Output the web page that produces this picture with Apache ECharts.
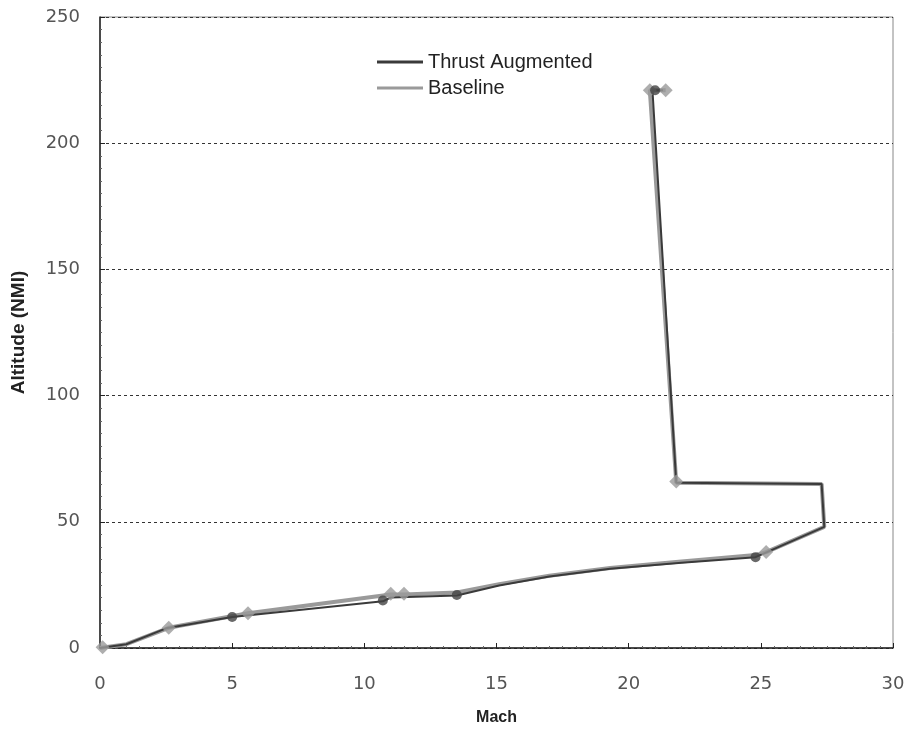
<!DOCTYPE html>
<html>
<head>
<meta charset="utf-8">
<script src="https://cdn.jsdelivr.net/npm/echarts@6/dist/echarts.min.js"></script>
<style>html,body{margin:0;padding:0;background:#fff}#c{width:911px;height:729px}</style>
</head>
<body>
<div id="c"></div>
<script>
// Mach / Altitude (NMI) trajectories
var thrustMach = [0, 1.0, 2.5, 5.0, 10.7, 11.0, 13.5, 15.1, 17.0, 19.3, 22.0, 24.8, 27.4, 27.3, 21.8, 20.9, 21.3];
var thrustAlt  = [0, 1.5, 7.8, 12.3, 18.5, 20.0, 20.8, 24.8, 28.3, 31.4, 33.8, 36.0, 48.0, 65.0, 65.5, 221.0, 221.0];
var baseMach = [0, 1.0, 2.6, 5.6, 11.0, 11.5, 13.5, 15.1, 17.0, 19.3, 22.0, 24.8, 25.2, 27.4, 27.3, 21.8, 20.8, 21.4];
var baseAlt  = [0, 1.5, 8.0, 13.8, 21.2, 21.2, 22.0, 25.3, 28.6, 31.7, 34.3, 36.8, 38.0, 48.0, 65.0, 65.5, 221.0, 221.0];
// marker points
var thrustMarkMach = [5.0, 10.7, 13.5, 24.8, 21.0];
var thrustMarkAlt  = [12.3, 18.8, 21.0, 36.0, 221.0];
var baseMarkMach = [0.1, 2.6, 5.6, 11.0, 11.5, 25.2, 21.8, 20.8, 21.4];
var baseMarkAlt  = [0.3, 8.0, 13.8, 21.5, 21.5, 38.0, 66.0, 221.0, 221.0];
var xTicks = [0, 5, 10, 15, 20, 25, 30];
var yTicks = [0, 50, 100, 150, 200, 250];

function pairs(a, b) { return a.map(function (v, i) { return [v, b[i]]; }); }

var chart = echarts.init(document.getElementById('c'));
var font = 'DejaVu Sans';
chart.setOption({
  animation: false,
  grid: { left: 100, right: 18, top: 17, bottom: 81, containLabel: false, outerBoundsMode: 'none',
          show: true, borderColor: '#888', borderWidth: 1 },
  legend: {
    orient: 'vertical', left: 372, top: 47, itemWidth: 46, itemHeight: 3, itemGap: 6,
    textStyle: { fontFamily: 'Liberation Sans', fontSize: 20, color: '#222' },
    data: [{ name: 'Thrust Augmented', icon: 'rect' }, { name: 'Baseline', icon: 'rect' }]
  },
  xAxis: {
    type: 'value', min: xTicks[0], max: xTicks[xTicks.length - 1], interval: 5,
    name: 'Mach', nameLocation: 'middle', nameGap: 62,
    nameTextStyle: { fontFamily: 'Liberation Sans', fontWeight: 'bold', fontSize: 16, color: '#222' },
    axisLine: { lineStyle: { color: '#222', width: 1.5 } },
    axisTick: { inside: true, length: 5, lineStyle: { color: '#222' } },
    minorTick: { show: true, splitNumber: 10, length: 2, lineStyle: { color: '#666' } },
    axisLabel: { margin: 27, fontFamily: font, fontSize: 18, color: '#555' },
    splitLine: { show: false }
  },
  yAxis: {
    type: 'value', min: yTicks[0], max: yTicks[yTicks.length - 1], interval: 50,
    name: 'Altitude (NMI)', nameLocation: 'middle', nameGap: 72, nameRotate: 90,
    nameTextStyle: { fontFamily: 'Liberation Sans', fontWeight: 'bold', fontSize: 19, color: '#222' },
    axisLine: { show: true, lineStyle: { color: '#222', width: 1.5 } },
    axisTick: { show: true, inside: true, length: 5, lineStyle: { color: '#222' } },
    minorTick: { show: true, splitNumber: 10, length: 2, lineStyle: { color: '#666' } },
    axisLabel: { margin: 20, fontFamily: font, fontSize: 18, color: '#555' },
    splitLine: { show: true, lineStyle: { color: '#333', type: [3, 3], width: 1 } }
  },
  series: [
    {
      name: 'Baseline', type: 'line', data: pairs(baseMach, baseAlt), symbol: 'none',
      lineStyle: { color: '#9a9a9a', width: 4 }, itemStyle: { color: '#9a9a9a' }, z: 2
    },
    {
      name: 'Thrust Augmented', type: 'line', data: pairs(thrustMach, thrustAlt), symbol: 'none',
      lineStyle: { color: '#3a3a3a', width: 2 }, itemStyle: { color: '#3a3a3a' }, z: 3
    },
    {
      name: 'Baseline', type: 'scatter', data: pairs(baseMarkMach, baseMarkAlt), symbol: 'diamond', symbolSize: 14,
      itemStyle: { color: '#9a9a9a' }, z: 4
    },
    {
      name: 'Thrust Augmented', type: 'scatter', data: pairs(thrustMarkMach, thrustMarkAlt), symbol: 'circle', symbolSize: 10,
      itemStyle: { color: '#444' }, z: 5
    }
  ]
});
</script>
</body>
</html>
